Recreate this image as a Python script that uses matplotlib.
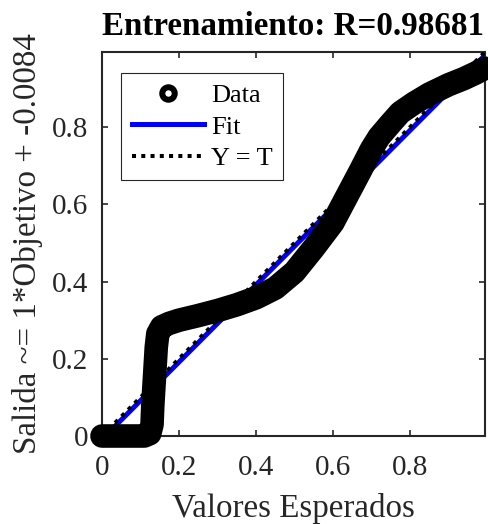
import matplotlib
matplotlib.use("Agg")
import matplotlib.pyplot as plt
from matplotlib.lines import Line2D
import numpy as np

# Training targets vs. network outputs
target = [0.0, 0.03, 0.06, 0.09, 0.11, 0.124, 0.13, 0.132, 0.135, 0.138,
          0.141, 0.145, 0.155, 0.175, 0.2, 0.25, 0.3, 0.35, 0.4, 0.45,
          0.5, 0.55, 0.6, 0.636, 0.67, 0.70, 0.72, 0.75, 0.775, 0.81,
          0.85, 0.9, 0.94, 0.97, 0.995]
output = [0.0, 0.0, 0.0, 0.0, 0.0, 0.006, 0.03, 0.08, 0.13, 0.18,
          0.23, 0.265, 0.283, 0.292, 0.300, 0.312, 0.325, 0.340, 0.358, 0.383,
          0.425, 0.487, 0.553, 0.621, 0.685, 0.743, 0.775, 0.81, 0.838, 0.862,
          0.886, 0.91, 0.926, 0.94, 0.953]

fit_slope = 1.0
fit_offset = -0.0084
r_value = 0.98681

x_ticks = [0, 0.2, 0.4, 0.6, 0.8]
y_ticks = [0, 0.2, 0.4, 0.6, 0.8]
lim = (0.0, 0.995)

plt.rcParams["font.family"] = ["Liberation Serif", "DejaVu Serif"]
axis_color = "#262626"

fig = plt.figure(figsize=(4.88, 5.24), dpi=100)
ax = fig.add_axes([102 / 488, 1 - 436 / 524, 383 / 488, 384 / 524])

# Fit line and identity line
xl = np.array(lim)
ax.plot(xl, fit_slope * xl + fit_offset, color=(0, 0, 1), lw=3.6, zorder=2,
        solid_capstyle="butt")
ax.plot(xl, xl, color="black", lw=2.9, linestyle=(0, (1, 1.3)), zorder=3,
        dash_capstyle="butt")

# Data: heavy circle markers forming a dense band
ax.plot(target, output, color="black", lw=17, solid_capstyle="round",
        solid_joinstyle="round", zorder=4, clip_on=False)
ax.plot(target, output, "o", color="black", ms=9, mew=4, mfc="none",
        zorder=5, clip_on=False)

ax.set_xlim(lim)
ax.set_ylim(lim)
ax.set_xticks(x_ticks)
ax.set_yticks(y_ticks)
ax.set_xticklabels(["0", "0.2", "0.4", "0.6", "0.8"])
ax.set_yticklabels(["0", "0.2", "0.4", "0.6", "0.8"])
ax.tick_params(direction="in", length=4, width=1.2, colors=axis_color,
               labelsize=21, top=True, right=True)
ax.tick_params(axis="x", pad=14)
ax.tick_params(axis="y", pad=10)
for s in ax.spines.values():
    s.set_linewidth(1.5)
    s.set_color(axis_color)

ax.set_xlabel("Valores Esperados", fontsize=23.8, color=axis_color, labelpad=8)
ax.set_ylabel("Salida ~= 1*Objetivo + -0.0084", fontsize=23.8,
              color=axis_color, labelpad=6)
ax.set_title("Entrenamiento: R=%.5f" % r_value, fontsize=23.8,
             fontweight="bold", pad=12)

handles = [
    Line2D([], [], marker="o", ls="none", color="black", ms=9, mew=4.3,
           mfc="white"),
    Line2D([], [], color=(0, 0, 1), lw=3.6),
    Line2D([], [], color="black", lw=2.9, linestyle=(0, (1, 1.3))),
]
leg = ax.legend(handles, ["Data", "Fit", "Y = T"], loc="upper left",
                bbox_to_anchor=(0.05, 0.945), fontsize=19, frameon=True,
                fancybox=False, edgecolor=axis_color, framealpha=1,
                handlelength=2.75, handletextpad=0.25, borderpad=0.4,
                labelspacing=0.3, borderaxespad=0)
leg.get_frame().set_linewidth(0.8)
leg.set_zorder(10)

fig.savefig("out.png", dpi=100)
